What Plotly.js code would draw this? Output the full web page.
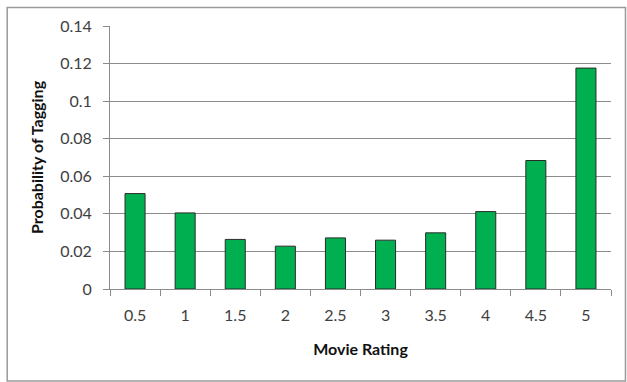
<!DOCTYPE html>
<html>
<head>
<meta charset="utf-8">
<script src="https://cdn.plot.ly/plotly-3.0.1.min.js"></script>
<style>
  html, body { margin: 0; padding: 0; background: #fff; }
  #chart { width: 627px; height: 382px; }
</style>
</head>
<body>
<div id="chart"></div>
<script>
// Movie rating categories and the probability that a rating comes with a tag
const ratings = ["0.5", "1", "1.5", "2", "2.5", "3", "3.5", "4", "4.5", "5"];
const tagProbability = [0.0508, 0.0405, 0.0264, 0.0228, 0.0272, 0.0260, 0.0299, 0.0412, 0.0684, 0.1176];
const yTicks = [0, 0.02, 0.04, 0.06, 0.08, 0.1, 0.12, 0.14];
const yTickText = ["0", "0.02", "0.04", "0.06", "0.08", "0.1", "0.12", "0.14"];

const font = "Lato, 'Open Sans', 'Liberation Sans', sans-serif";
const gray = "#8c8c8c";

const W = 627, H = 382;
const m = { l: 109.5, r: 15.5, t: 26, b: 93 };
const pw = W - m.l - m.r, ph = H - m.t - m.b;
// frame around the whole chart, in paper units
const px = v => (v - m.l) / pw;
const py = v => (H - m.b - v) / ph;

Plotly.newPlot("chart", [{
  type: "bar",
  x: ratings,
  y: tagProbability,
  marker: { color: "#00b050", line: { color: "#2b2b2b", width: 1 } },
  hoverinfo: "x+y"
}], {
  width: W, height: H,
  margin: m,
  paper_bgcolor: "#fff",
  plot_bgcolor: "#fff",
  bargap: 0.6,
  showlegend: false,
  font: { family: font, size: 16, color: "#404040" },
  xaxis: {
    type: "category",
    showline: true, linecolor: gray, linewidth: 1,
    ticks: "outside", tickson: "boundaries", ticklen: 6, tickcolor: gray,
    ticklabelstandoff: 12,
    showgrid: false,
    tickfont: { family: font, size: 16, color: "#404040" },
    title: { text: "<b>Movie Rating</b>", font: { family: font, size: 16, color: "#111" }, standoff: 20 },
    automargin: false
  },
  yaxis: {
    range: [0, 0.14],
    tickvals: yTicks, ticktext: yTickText,
    showline: true, linecolor: gray, linewidth: 1,
    ticks: "outside", ticklen: 6, tickcolor: gray,
    ticklabelstandoff: 8,
    showgrid: true, gridcolor: gray, gridwidth: 1,
    zeroline: false,
    tickfont: { family: font, size: 16, color: "#404040" },
    title: { text: "<b>Probability of Tagging</b>", font: { family: font, size: 16, color: "#111" }, standoff: 12 },
    automargin: false
  },
  shapes: [{
    type: "rect", xref: "paper", yref: "paper",
    x0: px(6.5), x1: px(626), y0: py(7.5), y1: py(381),
    line: { color: "#9a9a9a", width: 1.5 }, fillcolor: "rgba(0,0,0,0)", layer: "below"
  }]
}, { displayModeBar: false, staticPlot: true });
</script>
</body>
</html>
